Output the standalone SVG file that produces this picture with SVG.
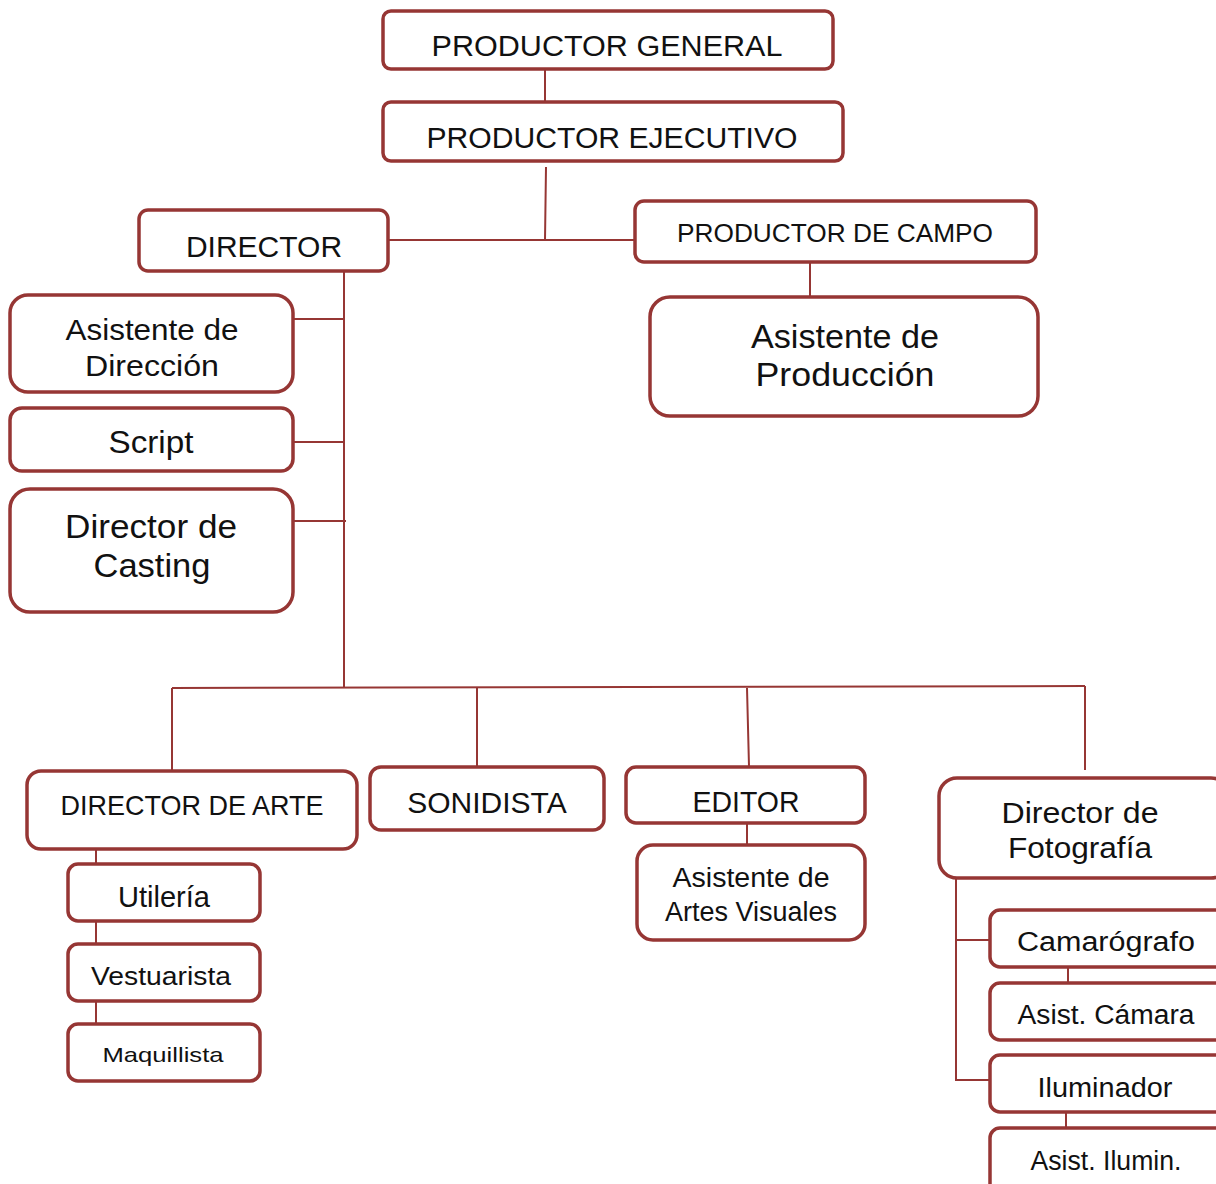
<svg xmlns="http://www.w3.org/2000/svg" width="1216" height="1184" viewBox="0 0 1216 1184">
<style>
.box{fill:#fff;stroke:#963634;stroke-width:3.5}
.con{fill:none;stroke:#963634;stroke-width:2}
text{font-family:"Liberation Sans",Arial,sans-serif;fill:#111;text-anchor:middle}
</style>
<rect width="1216" height="1184" fill="#fff"/>
<g id="connectors">
<path class="con" d="M545 69V102"/>
<path class="con" d="M546 167L545 240M388 240H635"/>
<path class="con" d="M810 262V297"/>
<path class="con" d="M344 271V687"/>
<path class="con" d="M293 319H344M293 442H344M293 521H346"/>
<path class="con" d="M172 688L1085 686"/>
<path class="con" d="M172 688V770M477 688V766M747 688L749 766M1085 686V770"/>
<path class="con" d="M96 849V864M96 921V944M96 1001V1024"/>
<path class="con" d="M747 823V845"/>
<path class="con" d="M956 878V1080H990M956 940H994"/>
<path class="con" d="M1068 967V983M1066 1112V1128"/>
</g>
<g id="productor-general"><rect class="box" x="383" y="11" width="450" height="58" rx="8"/><text x="607" y="56" font-size="30" textLength="351" lengthAdjust="spacingAndGlyphs">PRODUCTOR GENERAL</text></g>
<g id="productor-ejecutivo"><rect class="box" x="383" y="102" width="460" height="59" rx="8"/><text x="612" y="148" font-size="30" textLength="371" lengthAdjust="spacingAndGlyphs">PRODUCTOR EJECUTIVO</text></g>
<g id="director"><rect class="box" x="139" y="210" width="249" height="61" rx="9"/><text x="264" y="257" font-size="30">DIRECTOR</text></g>
<g id="productor-campo"><rect class="box" x="635" y="201" width="401" height="61" rx="9"/><text x="835" y="242" font-size="25" textLength="316" lengthAdjust="spacingAndGlyphs">PRODUCTOR DE CAMPO</text></g>
<g id="asistente-produccion"><rect class="box" x="650" y="297" width="388" height="119" rx="20"/><text x="845" y="348" font-size="33" textLength="188" lengthAdjust="spacingAndGlyphs">Asistente de</text><text x="845" y="386" font-size="33" textLength="179" lengthAdjust="spacingAndGlyphs">Producción</text></g>
<g id="asistente-direccion"><rect class="box" x="10" y="295" width="283" height="97" rx="18"/><text x="152" y="340" font-size="29" textLength="173" lengthAdjust="spacingAndGlyphs">Asistente de</text><text x="152" y="376" font-size="29" textLength="134" lengthAdjust="spacingAndGlyphs">Dirección</text></g>
<g id="script"><rect class="box" x="10" y="408" width="283" height="63" rx="12"/><text x="151" y="453" font-size="31" textLength="85" lengthAdjust="spacingAndGlyphs">Script</text></g>
<g id="director-casting"><rect class="box" x="10" y="489" width="283" height="123" rx="20"/><text x="151" y="538" font-size="33" textLength="172" lengthAdjust="spacingAndGlyphs">Director de</text><text x="152" y="577" font-size="33" textLength="117" lengthAdjust="spacingAndGlyphs">Casting</text></g>
<g id="director-arte"><rect class="box" x="27" y="771" width="330" height="78" rx="14"/><text x="192" y="815" font-size="28" textLength="263" lengthAdjust="spacingAndGlyphs">DIRECTOR DE ARTE</text></g>
<g id="sonidista"><rect class="box" x="370" y="767" width="234" height="63" rx="11"/><text x="487" y="813" font-size="30">SONIDISTA</text></g>
<g id="editor"><rect class="box" x="626" y="767" width="239" height="56" rx="10"/><text x="746" y="812" font-size="30" textLength="107" lengthAdjust="spacingAndGlyphs">EDITOR</text></g>
<g id="asistente-artes-visuales"><rect class="box" x="637" y="845" width="228" height="95" rx="16"/><text x="751" y="887" font-size="27" textLength="157" lengthAdjust="spacingAndGlyphs">Asistente de</text><text x="751" y="921" font-size="27" textLength="172" lengthAdjust="spacingAndGlyphs">Artes Visuales</text></g>
<g id="director-fotografia"><rect class="box" x="939" y="778" width="290" height="100" rx="18"/><text x="1080" y="823" font-size="29" textLength="157" lengthAdjust="spacingAndGlyphs">Director de</text><text x="1080" y="858" font-size="29" textLength="144" lengthAdjust="spacingAndGlyphs">Fotografía</text></g>
<g id="camarografo"><rect class="box" x="990" y="910" width="235" height="57" rx="10"/><text x="1106" y="951" font-size="27" textLength="178" lengthAdjust="spacingAndGlyphs">Camarógrafo</text></g>
<g id="asist-camara"><rect class="box" x="990" y="983" width="235" height="57" rx="10"/><text x="1106" y="1024" font-size="27" textLength="177" lengthAdjust="spacingAndGlyphs">Asist. Cámara</text></g>
<g id="iluminador"><rect class="box" x="990" y="1055" width="235" height="57" rx="10"/><text x="1105" y="1097" font-size="27" textLength="135" lengthAdjust="spacingAndGlyphs">Iluminador</text></g>
<g id="asist-ilumin"><rect class="box" x="990" y="1128" width="235" height="70" rx="10"/><text x="1106" y="1170" font-size="27" textLength="151" lengthAdjust="spacingAndGlyphs">Asist. Ilumin.</text></g>
<g id="utileria"><rect class="box" x="68" y="864" width="192" height="57" rx="10"/><text x="164" y="907" font-size="29" textLength="92" lengthAdjust="spacingAndGlyphs">Utilería</text></g>
<g id="vestuarista"><rect class="box" x="68" y="944" width="192" height="57" rx="10"/><text x="161" y="985" font-size="25" textLength="140" lengthAdjust="spacingAndGlyphs">Vestuarista</text></g>
<g id="maquillista"><rect class="box" x="68" y="1024" width="192" height="57" rx="10"/><text x="163" y="1062" font-size="21" textLength="121" lengthAdjust="spacingAndGlyphs">Maquillista</text></g>
</svg>
